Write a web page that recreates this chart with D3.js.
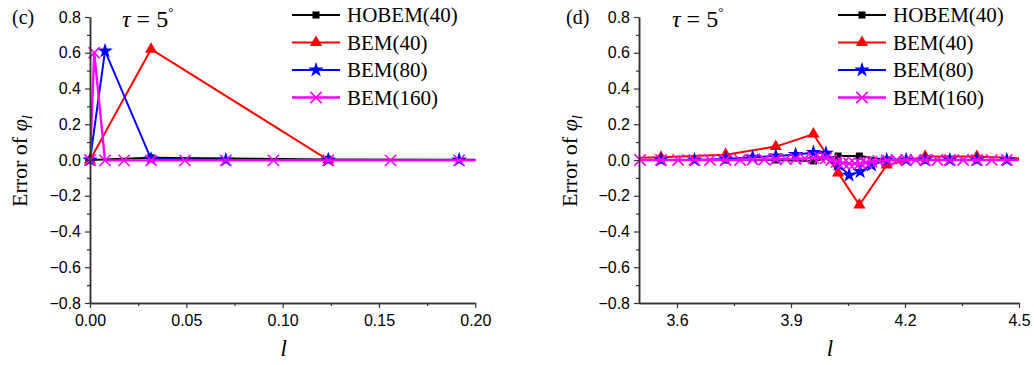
<!DOCTYPE html>
<html><head><meta charset="utf-8">
<script src="https://cdn.jsdelivr.net/npm/d3@7"></script>
<style>body{margin:0;background:#fff}svg{display:block}</style>
</head><body>
<script>
// ---------- DATA ----------
const seriesNames = ["HOBEM(40)", "BEM(40)", "BEM(80)", "BEM(160)"];
const yTickValues = [-0.8,-0.6,-0.4,-0.2,0.0,0.2,0.4,0.6,0.8];
const yMinorValues = [-0.7,-0.5,-0.3,-0.1,0.1,0.3,0.5,0.7];

// panel (c)
const cTicks = [0.00,0.05,0.10,0.15,0.20];
const cMinor = [0.025,0.075,0.125,0.175];
const cX40  = [0, 0.0317, 0.1237, 0.28];
const cHobem40 = [0, 0.012, 0.003, 0];
const cBem40   = [0, 0.62, 0.0, 0];
const cX80  = [0, 0.0078, 0.0317, 0.0705, 0.1237, 0.1916, 0.28];
const cBem80   = [0, 0.61, 0.005, 0, 0, 0, 0];
const cX160 = [0, 0.0022, 0.0078, 0.0177, 0.0317, 0.0493, 0.0705, 0.0952, 0.1237, 0.156, 0.1916, 0.232];
const cBem160  = [0, 0.60, -0.002, -0.002, -0.002, -0.002, -0.002, -0.002, -0.002, -0.002, -0.002, -0.002];

// panel (d)
const dTicks = [3.6,3.9,4.2,4.5];
const dMinor = [3.75,4.05,4.35];
const dX40  = [3.40, 3.558, 3.728, 3.86, 3.959, 4.024, 4.08, 4.152, 4.253, 4.389, 4.55];
const dHobem40 = [0, 0, 0, 0, -0.005, 0.022, 0.022, 0, 0, 0, 0];
const dBem40   = [0.008, 0.015, 0.03, 0.075, 0.145, -0.072, -0.252, -0.028, 0.02, 0.02, 0.005];
const dX80  = [3.47, 3.558, 3.646, 3.728, 3.799, 3.86, 3.912, 3.959, 3.992, 4.024, 4.053, 4.082, 4.112, 4.152, 4.203, 4.253, 4.318, 4.389, 4.468, 4.55];
const dBem80   = [0, 0, 0, 0.005, 0.015, 0.022, 0.03, 0.042, 0.037, -0.025, -0.085, -0.065, -0.028, 0, 0, 0, 0, 0, 0, 0];
const dX160 = [3.503, 3.558, 3.603, 3.646, 3.687, 3.728, 3.766, 3.799, 3.83, 3.86, 3.886, 3.912, 3.936, 3.959, 3.976, 3.992, 4.006, 4.02, 4.037, 4.053, 4.068, 4.082, 4.097, 4.112, 4.13, 4.152, 4.178, 4.203, 4.228, 4.253, 4.285, 4.318, 4.353, 4.389, 4.428, 4.468, 4.51];
const dBem160  = [0, 0, 0, 0, 0, 0, 0, 0.002, 0.003, 0.004, 0.005, 0.007, 0.009, 0.012, 0.013, 0.01, 0.0, -0.01, -0.017, -0.02, -0.02, -0.018, -0.014, -0.01, -0.005, -0.002, 0, 0, 0, 0, 0, 0, 0, 0, 0, 0, 0];

// ---------- DRAW ----------
const W = 1034, H = 365;
const svg = d3.select("body").append("svg").attr("width", W).attr("height", H);
svg.append("rect").attr("width", W).attr("height", H).attr("fill", "#fff");

const colors = ["#000000", "#ff0000", "#0000ff", "#ff00ff"];
const widths = [2, 2, 2, 2.4];
const sym = [
  {type: d3.symbolSquare, size: 50, fill: true},
  {type: d3.symbolTriangle, size: 64, fill: true},
  {type: d3.symbolStar, size: 75, fill: true},
  {type: d3.symbolTimes || d3.symbolCross, size: 85, fill: false}
];
const SANS = "'Liberation Sans', Arial, sans-serif";
const SERIF = "'Liberation Serif', 'Times New Roman', serif";

function drawMarker(g, i, x, y) {
  const s = sym[i];
  const p = g.append("path").attr("d", d3.symbol().type(s.type).size(s.size)())
    .attr("transform", `translate(${x},${y})`);
  if (s.fill) p.attr("fill", colors[i]).attr("stroke", "none");
  else p.attr("fill", "none").attr("stroke", colors[i]).attr("stroke-width", 1.6);
}

function panel(cfg, idx) {
  const x = d3.scaleLinear().domain(cfg.xDomain).range(cfg.xRange);
  const y = d3.scaleLinear().domain([-0.8, 0.8]).range([303, 17]);
  const g = svg.append("g");
  const clipId = "clip" + idx;
  svg.append("defs").append("clipPath").attr("id", clipId).append("rect")
    .attr("x", cfg.xRange[0]).attr("y", 0).attr("width", cfg.xRange[1] - cfg.xRange[0]).attr("height", H);

  // series
  cfg.series.forEach((s, i) => {
    const pts = s.x.map((v, k) => [v, s.y[k]]);
    g.append("path").attr("clip-path", `url(#${clipId})`)
      .attr("d", d3.line().x(d => x(d[0])).y(d => y(d[1]))(pts))
      .attr("fill", "none").attr("stroke", colors[i]).attr("stroke-width", widths[i]);
    pts.filter(d => d[0] >= cfg.xDomain[0] && d[0] <= cfg.xDomain[1])
      .forEach(d => drawMarker(g, i, x(d[0]), y(d[1])));
  });

  // axes
  const axStyle = sel => {
    sel.selectAll("path.domain").attr("stroke", "#333").attr("stroke-width", 1.5);
    sel.selectAll(".tick line").attr("stroke", "#333").attr("stroke-width", 1.2);
    sel.selectAll(".tick text").attr("font-family", SANS).attr("font-size", 16).attr("fill", "#000");
  };
  g.append("g").attr("transform", `translate(${cfg.xRange[0]},0)`)
    .call(d3.axisLeft(y).tickValues(yMinorValues).tickSize(3).tickSizeOuter(0).tickFormat(""))
    .call(axStyle);
  g.append("g").attr("transform", `translate(${cfg.xRange[0]},0)`)
    .call(d3.axisLeft(y).tickValues(yTickValues).tickSize(5).tickPadding(4).tickSizeOuter(0).tickFormat(d3.format(".1f")))
    .call(axStyle);
  g.append("g").attr("transform", `translate(0,303)`)
    .call(d3.axisBottom(x).tickValues(cfg.minor).tickSize(3).tickSizeOuter(0).tickFormat(""))
    .call(axStyle);
  g.append("g").attr("transform", `translate(0,303)`)
    .call(d3.axisBottom(x).tickValues(cfg.ticks).tickSize(5).tickPadding(7).tickSizeOuter(0).tickFormat(d3.format(cfg.fmt)))
    .call(axStyle);

  // axis titles
  const mid = (cfg.xRange[0] + cfg.xRange[1]) / 2;
  g.append("text").attr("x", mid + 1).attr("y", 356).attr("text-anchor", "middle")
    .attr("font-family", SERIF).attr("font-size", 23).attr("font-style", "italic").text("l");
  const yt = g.append("text").attr("transform", `translate(${cfg.yTitleX},161) rotate(-90)`)
    .attr("text-anchor", "middle").attr("font-family", SERIF).attr("font-size", 22);
  yt.append("tspan").text("Error of ");
  yt.append("tspan").attr("font-style", "italic").text("φ");
  yt.append("tspan").attr("font-style", "italic").attr("font-size", 15).attr("dy", 5).text("l");

  // panel label
  g.append("text").attr("x", cfg.labelX).attr("y", 24).attr("font-family", SERIF).attr("font-size", 20).text(cfg.label);
  // tau
  const t = g.append("text").attr("x", cfg.tauX).attr("y", 27).attr("font-family", SERIF).attr("font-size", 24);
  t.append("tspan").attr("font-style", "italic").text("τ");
  t.append("tspan").text(" = 5");
  t.append("tspan").attr("font-size", 13).attr("dy", -11).text("°");

  // legend
  seriesNames.forEach((name, i) => {
    const ly = 15 + i * 27.5;
    g.append("line").attr("x1", cfg.legX).attr("x2", cfg.legX + 48).attr("y1", ly).attr("y2", ly)
      .attr("stroke", colors[i]).attr("stroke-width", widths[i]);
    drawMarker(g, i, cfg.legX + 24, ly);
    g.append("text").attr("x", cfg.legX + 55).attr("y", ly + 7)
      .attr("font-family", SERIF).attr("font-size", 21).text(name);
  });
}

panel({
  xDomain: [0, 0.2], xRange: [90, 475.3], ticks: cTicks, minor: cMinor, fmt: ".2f",
  series: [
    {x: cX40, y: cHobem40}, {x: cX40, y: cBem40}, {x: cX80, y: cBem80}, {x: cX160, y: cBem160}
  ],
  yTitleX: 27, label: "(c)", labelX: 12, tauX: 122, legX: 292
}, 0);

panel({
  xDomain: [3.5, 4.5], xRange: [639, 1019], ticks: dTicks, minor: dMinor, fmt: ".1f",
  series: [
    {x: dX40, y: dHobem40}, {x: dX40, y: dBem40}, {x: dX80, y: dBem80}, {x: dX160, y: dBem160}
  ],
  yTitleX: 577, label: "(d)", labelX: 566, tauX: 672, legX: 838
}, 1);
</script>
</body></html>
